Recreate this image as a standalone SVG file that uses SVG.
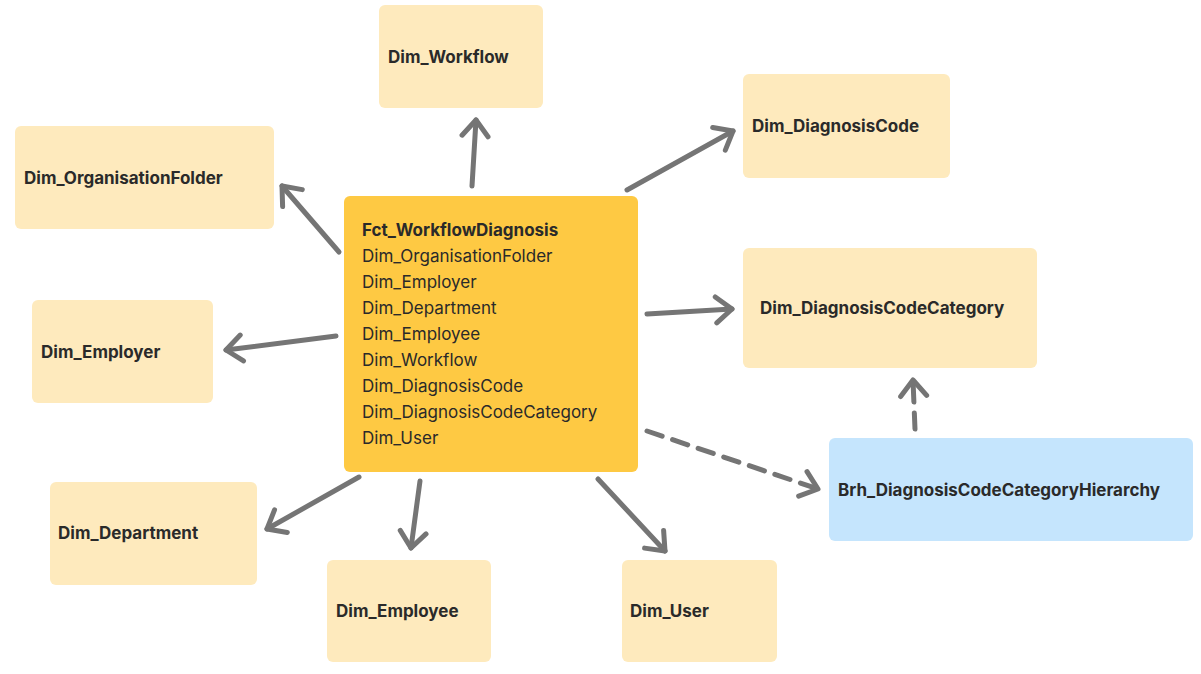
<svg xmlns="http://www.w3.org/2000/svg" width="1201" height="674" viewBox="0 0 1201 674">
<style>
.dim{fill:#feeabd}
.fct{fill:#fec943}
.brh{fill:#c5e5fd}
.lbl{font-family:Inter,"Noto Sans",sans-serif;font-size:17px;font-weight:700;fill:#2a2a2a}
.ln{font-family:Inter,"Noto Sans",sans-serif;font-size:17px;fill:#2a2a2a}
.c{fill:none;stroke:#757575;stroke-width:5;stroke-linecap:round;stroke-linejoin:round}
.d{stroke-dasharray:16 11}
</style>
<defs>
<marker id="ah" viewBox="-20 -16 24 32" refX="0" refY="0" markerWidth="24" markerHeight="32" markerUnits="userSpaceOnUse" orient="auto">
<path d="M-16,-13 L0,0 L-16,13" fill="none" stroke="#757575" stroke-width="5" stroke-linecap="round" stroke-linejoin="round"/>
</marker>
</defs>
<rect width="1201" height="674" fill="#ffffff"/>
<g id="connectors">
<path class="c" d="M472,186 L476,120" marker-end="url(#ah)"/>
<path class="c" d="M627,190 L733,131" marker-end="url(#ah)"/>
<path class="c" d="M339,252 L282,186" marker-end="url(#ah)"/>
<path class="c" d="M336,336 L226,350" marker-end="url(#ah)"/>
<path class="c" d="M647,314 L732,309" marker-end="url(#ah)"/>
<path class="c d" d="M647,431 L818,489" marker-end="url(#ah)"/>
<path class="c d" d="M915,429 L913,380" marker-end="url(#ah)"/>
<path class="c" d="M359,477 L267,529" marker-end="url(#ah)"/>
<path class="c" d="M420,481 L411,548" marker-end="url(#ah)"/>
<path class="c" d="M598,479 L665,551" marker-end="url(#ah)"/>
</g>
<g id="dim_workflow"><rect class="dim" x="379" y="5" width="164" height="103" rx="6"/><text class="lbl" x="388" y="63">Dim_Workflow</text></g>
<g id="dim_diagnosiscode"><rect class="dim" x="743" y="74" width="207" height="104" rx="6"/><text class="lbl" x="752" y="132">Dim_DiagnosisCode</text></g>
<g id="dim_organisationfolder"><rect class="dim" x="15" y="126" width="259" height="103" rx="6"/><text class="lbl" x="24" y="184">Dim_OrganisationFolder</text></g>
<g id="fct_workflowdiagnosis"><rect class="fct" x="344" y="196" width="294" height="276" rx="6"/>
<text class="lbl" x="362" y="236">Fct_WorkflowDiagnosis</text>
<text class="ln" x="362" y="262">Dim_OrganisationFolder</text>
<text class="ln" x="362" y="288">Dim_Employer</text>
<text class="ln" x="362" y="314">Dim_Department</text>
<text class="ln" x="362" y="340">Dim_Employee</text>
<text class="ln" x="362" y="366">Dim_Workflow</text>
<text class="ln" x="362" y="392">Dim_DiagnosisCode</text>
<text class="ln" x="362" y="418">Dim_DiagnosisCodeCategory</text>
<text class="ln" x="362" y="444">Dim_User</text>
</g>
<g id="dim_diagnosiscodecategory"><rect class="dim" x="743" y="248" width="294" height="120" rx="6"/><text class="lbl" x="760" y="314">Dim_DiagnosisCodeCategory</text></g>
<g id="dim_employer"><rect class="dim" x="32" y="300" width="181" height="103" rx="6"/><text class="lbl" x="41" y="358">Dim_Employer</text></g>
<g id="brh_diagnosiscodecategoryhierarchy"><rect class="brh" x="829" y="438" width="364" height="103" rx="6"/><text class="lbl" x="838" y="496">Brh_DiagnosisCodeCategoryHierarchy</text></g>
<g id="dim_department"><rect class="dim" x="50" y="482" width="207" height="103" rx="6"/><text class="lbl" x="58" y="539">Dim_Department</text></g>
<g id="dim_employee"><rect class="dim" x="327" y="560" width="164" height="102" rx="6"/><text class="lbl" x="336" y="617">Dim_Employee</text></g>
<g id="dim_user"><rect class="dim" x="622" y="560" width="155" height="102" rx="6"/><text class="lbl" x="630" y="617">Dim_User</text></g>
</svg>
